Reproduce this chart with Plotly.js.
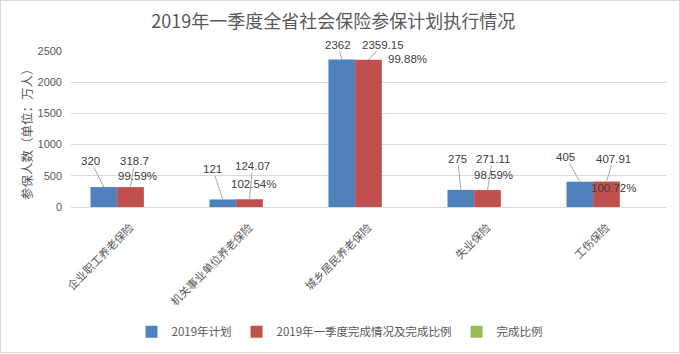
<!DOCTYPE html>
<html>
<head>
<meta charset="utf-8">
<script src="https://cdn.plot.ly/plotly-3.0.1.min.js"></script>
<style>
html,body{margin:0;padding:0;background:#fff;}
#frame{position:absolute;left:0;top:0;width:680px;height:353px;box-sizing:border-box;border:1px solid #d9d9d9;}
#chart{width:678px;height:351px;}
</style>
</head>
<body>
<div id="frame"><div id="chart"></div></div>
<script>
// ---- data ----
const categories = ["企业职工养老保险", "机关事业单位养老保险", "城乡居民养老保险", "失业保险", "工伤保险"];
const plan2019 = [320, 121, 2362, 275, 405];
const actualQ1 = [318.7, 124.07, 2359.15, 271.11, 407.91];
const completionRatio = [99.59, 102.54, 99.88, 98.59, 100.72];
const seriesNames = ["2019年计划", "2019年一季度完成情况及完成比例", "完成比例"];
const yTicks = [0, 500, 1000, 1500, 2000, 2500];
const yTitle = "参保人数（单位：万人）";

// ---- label placement (pixel offsets, style only) ----
const planLabelOffset = [[-13, -26], [-10, -30], [-4, -15], [-3, -31], [-14, -25]];
const actualLabelOffset = [[4, -26], [3, -33], [14, -15], [5, -31], [7, -23]];
const ratioLabelShift = [[7, 11], [4, 15], [39, 1], [6, 15], [7, -6]];

const colors = ["#4F81BD", "#C0504D", "#9BBB59"];
const bargap = 0.327;
const slot = (1 - bargap) / 3;
const fontFam = "'Liberation Sans', 'Noto Sans CJK SC', sans-serif";
const cjkFam = "'Noto Sans CJK SC', 'Liberation Sans', sans-serif";

const traces = [
  {type: "bar", name: seriesNames[0], x: categories, y: plan2019, marker: {color: colors[0]}, hoverinfo: "y"},
  {type: "bar", name: seriesNames[1], x: categories, y: actualQ1, marker: {color: colors[1]}, hoverinfo: "y"},
  {type: "bar", name: seriesNames[2], x: categories, y: categories.map(() => null), marker: {color: colors[2]}, hoverinfo: "skip"}
];

const annFont = {family: fontFam, size: 11.5, color: "#404040"};
const arrowStyle = {showarrow: true, arrowhead: 0, arrowwidth: 1, arrowcolor: "#A6A6A6", standoff: 0, borderpad: 0};
const annotations = [];
categories.forEach((c, i) => {
  annotations.push(Object.assign({
    x: i - slot, y: plan2019[i], xref: "x", yref: "y",
    text: String(plan2019[i]), font: annFont,
    ax: planLabelOffset[i][0], ay: planLabelOffset[i][1]
  }, arrowStyle));
  annotations.push(Object.assign({
    x: i, y: actualQ1[i], xref: "x", yref: "y",
    text: String(actualQ1[i]), font: annFont,
    ax: actualLabelOffset[i][0], ay: actualLabelOffset[i][1]
  }, arrowStyle));
  annotations.push({
    x: i, y: actualQ1[i], xref: "x", yref: "y",
    text: completionRatio[i].toFixed(2) + "%", font: annFont, showarrow: false,
    xshift: ratioLabelShift[i][0], yshift: ratioLabelShift[i][1]
  });
});
// y-axis title
annotations.push({
  x: 0, y: 0.5, xref: "paper", yref: "paper", xanchor: "center", yanchor: "middle",
  xshift: -45, yshift: -2, textangle: -90, showarrow: false,
  text: yTitle, font: {family: cjkFam, size: 12.5, color: "#595959"}
});

const layout = {
  width: 678, height: 351,
  margin: {l: 70, r: 13, t: 50, b: 145, autoexpand: false},
  paper_bgcolor: "#fff", plot_bgcolor: "#fff",
  title: {
    text: "2019年一季度全省社会保险参保计划执行情况",
    font: {family: cjkFam, size: 18, color: "#595959"},
    x: 0.49, xanchor: "center", y: 0.94, yanchor: "middle", yref: "container"
  },
  barmode: "group", bargap: bargap, bargroupgap: 0,
  xaxis: {
    type: "category", tickangle: -45, showgrid: false, zeroline: false, automargin: false,
    showline: true, linecolor: "#D9D9D9", linewidth: 1, ticks: "", ticklabelstandoff: 9,
    tickfont: {family: cjkFam, size: 11, color: "#595959"}, fixedrange: true
  },
  yaxis: {
    range: [0, 2500], tickvals: yTicks, ticktext: yTicks.map(String), automargin: false,
    showgrid: true, gridcolor: "#D9D9D9", gridwidth: 1, zeroline: false, showline: false,
    ticks: "", ticklabelstandoff: 8,
    tickfont: {family: fontFam, size: 11, color: "#595959"},
    fixedrange: true
  },
  legend: {
    orientation: "h", xref: "container", x: 0.5, xanchor: "center",
    y: -0.8, yanchor: "middle", itemwidth: 30,
    font: {family: cjkFam, size: 11.5, color: "#595959"}, traceorder: "normal"
  },
  annotations: annotations,
  showlegend: true
};

Plotly.newPlot("chart", traces, layout, {displayModeBar: false, staticPlot: true});
</script>
</body>
</html>
